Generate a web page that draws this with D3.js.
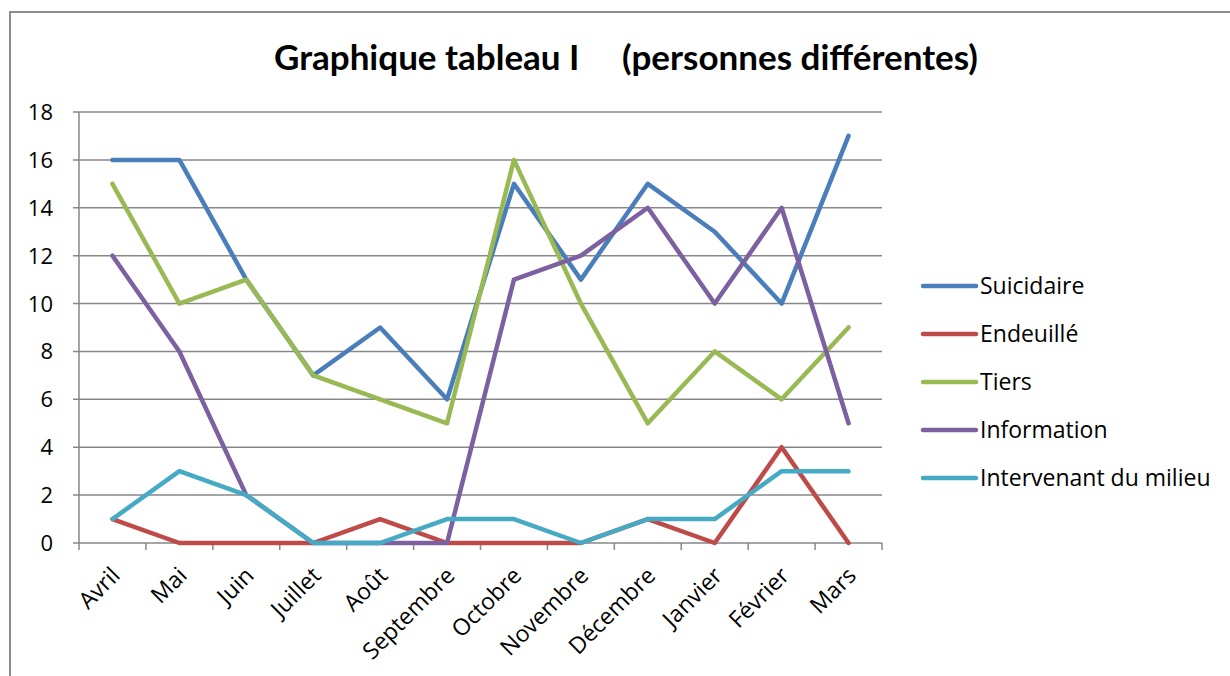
<!DOCTYPE html>
<html>
<head>
<meta charset="utf-8">
<script src="https://cdn.jsdelivr.net/npm/d3@7"></script>
<style>
  body { margin: 0; background: #fff; }
  svg { display: block; }
</style>
</head>
<body>
<svg width="1230" height="676"></svg>
<script>
// Data
const months = ["Avril", "Mai", "Juin", "Juillet", "Août", "Septembre", "Octobre",
  "Novembre", "Décembre", "Janvier", "Février", "Mars"];
const seriesNames = ["Suicidaire", "Endeuillé", "Tiers", "Information", "Intervenant du milieu"];
const suicidaire = [16, 16, 11, 7, 9, 6, 15, 11, 15, 13, 10, 17];
const endeuille = [1, 0, 0, 0, 1, 0, 0, 0, 1, 0, 4, 0];
const tiers = [15, 10, 11, 7, 6, 5, 16, 10, 5, 8, 6, 9];
const information = [12, 8, 2, 0, 0, 0, 11, 12, 14, 10, 14, 5];
const intervenant = [1, 3, 2, 0, 0, 1, 1, 0, 1, 1, 3, 3];
const yTicks = [0, 2, 4, 6, 8, 10, 12, 14, 16, 18];

const colors = ["#4a7ebb", "#be4b48", "#98b954", "#7d60a0", "#46aac5"];
const allSeries = [suicidaire, endeuille, tiers, information, intervenant];

const svg = d3.select("svg");
const font = "'Open Sans', sans-serif";
const titleFont = "Lato, sans-serif";

// outer frame
svg.append("path")
  .attr("d", "M10,676 L10,12 L1230,12")
  .attr("fill", "none")
  .attr("stroke", "#8c8c8c")
  .attr("stroke-width", 2);

// title
svg.append("text")
  .attr("x", 626)
  .attr("y", 70)
  .attr("text-anchor", "middle")
  .attr("font-family", titleFont)
  .attr("font-weight", "bold")
  .attr("font-size", "35px")
  .style("white-space", "pre")
  .text("Graphique tableau I     (personnes différentes)");

const plotLeft = 79, plotRight = 882, plotTop = 112, plotBottom = 543;

const x = d3.scaleBand().domain(months).range([plotLeft, plotRight]);
const y = d3.scaleLinear().domain([0, 18]).range([plotBottom, plotTop]);

// gridlines
svg.append("g")
  .selectAll("line")
  .data(yTicks)
  .enter()
  .append("line")
  .attr("x1", plotLeft - 6)
  .attr("x2", plotRight)
  .attr("y1", (d) => y(d))
  .attr("y2", (d) => y(d))
  .attr("stroke", "#878787")
  .attr("stroke-width", 1.5);

// y axis line
svg.append("line")
  .attr("x1", plotLeft).attr("x2", plotLeft)
  .attr("y1", plotTop).attr("y2", plotBottom)
  .attr("stroke", "#878787")
  .attr("stroke-width", 1.5);

// y tick labels
svg.append("g")
  .selectAll("text")
  .data(yTicks)
  .enter()
  .append("text")
  .attr("x", 53)
  .attr("y", (d) => y(d) + 8)
  .attr("text-anchor", "end")
  .attr("font-family", font)
  .attr("font-size", "22px")
  .text((d) => d);

// x ticks
const xTickPos = months.map((m) => x(m)).concat([plotRight]);
svg.append("g")
  .selectAll("line")
  .data(xTickPos)
  .enter()
  .append("line")
  .attr("x1", (d) => d).attr("x2", (d) => d)
  .attr("y1", plotBottom).attr("y2", plotBottom + 7)
  .attr("stroke", "#878787")
  .attr("stroke-width", 1.5);

// x labels
svg.append("g")
  .selectAll("text")
  .data(months)
  .enter()
  .append("text")
  .attr("transform", (d) => `translate(${x(d) + x.bandwidth() / 2 + 9},${plotBottom + 34}) rotate(-45)`)
  .attr("text-anchor", "end")
  .attr("font-family", font)
  .attr("font-size", "23px")
  .text((d) => d);

// lines
const line = d3.line()
  .x((d, i) => x(months[i]) + x.bandwidth() / 2)
  .y((d) => y(d));

svg.append("g")
  .selectAll("path")
  .data(allSeries)
  .enter()
  .append("path")
  .attr("d", line)
  .attr("fill", "none")
  .attr("stroke", (d, i) => colors[i])
  .attr("stroke-width", 4.5)
  .attr("stroke-linejoin", "round")
  .attr("stroke-linecap", "round");

// legend
const legend = svg.append("g")
  .selectAll("g")
  .data(seriesNames)
  .enter()
  .append("g")
  .attr("transform", (d, i) => `translate(0,${286 + i * 48})`);

legend.append("line")
  .attr("x1", 923).attr("x2", 976)
  .attr("y1", 0).attr("y2", 0)
  .attr("stroke", (d, i) => colors[i])
  .attr("stroke-width", 4.5)
  .attr("stroke-linecap", "round");

legend.append("text")
  .attr("x", 980)
  .attr("y", 8)
  .attr("font-family", font)
  .attr("font-size", "23px")
  .text((d) => d);
</script>
</body>
</html>
